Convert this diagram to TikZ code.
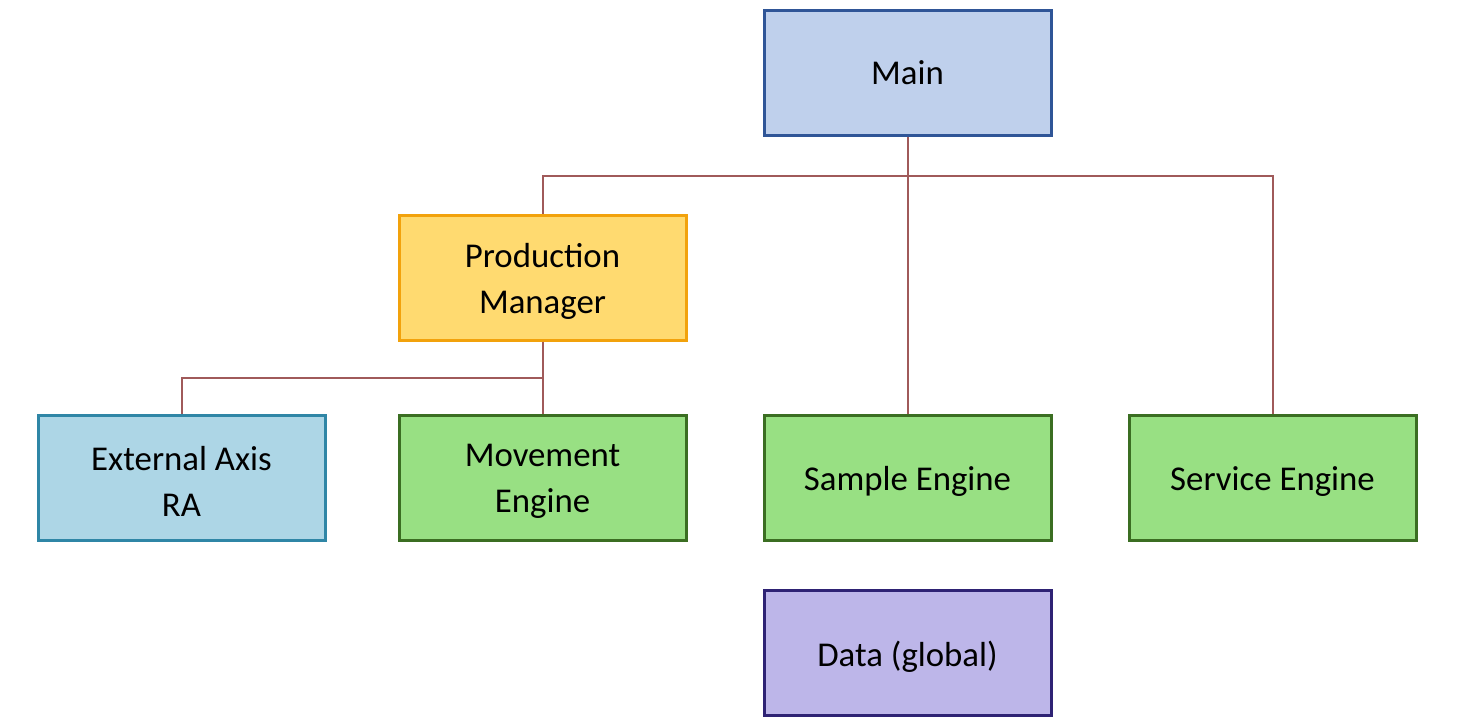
\documentclass[tikz,border=0pt]{standalone}
\usepackage{fontspec}
\setmainfont{Carlito}
\begin{document}
\begin{tikzpicture}[x=0.5pt,y=-0.5pt,
  box/.style={draw, line width=1.5pt, minimum width=143.5pt, minimum height=62.5pt,
    inner sep=0pt},
  lab/.style={align=center, font=\fontsize{17.4}{23}\selectfont, text=black, yshift=-2pt, inner sep=0pt},
  link/.style={draw=linkc, line width=1pt}]
\definecolor{linkc}{HTML}{A05A5A}
\definecolor{mainf}{HTML}{BFD0EC}\definecolor{maind}{HTML}{2F5597}
\definecolor{pmf}{HTML}{FFDA70}\definecolor{pmd}{HTML}{F2A20C}
\definecolor{extf}{HTML}{ADD6E6}\definecolor{extd}{HTML}{2F86A6}
\definecolor{grf}{HTML}{98E083}\definecolor{grd}{HTML}{3B6E22}
\definecolor{datf}{HTML}{BDB6E9}\definecolor{datd}{HTML}{2E2274}
\useasboundingbox (0,0) rectangle (1460,724);
\node[box, fill=mainf, draw=maind, label={[lab, yshift=2pt]center:Main}] (main) at (907.5,73) {};
\node[box, fill=pmf, draw=pmd, label={[lab]center:{Production\\Manager}}] (pm) at (542.5,277.5) {};
\node[box, fill=extf, draw=extd, label={[lab]center:{External Axis\\RA}}] (ext) at (181.5,477.5) {};
\node[box, fill=grf, draw=grd, label={[lab]center:{Movement\\Engine}}] (move) at (542.5,477.5) {};
\node[box, fill=grf, draw=grd, label={[lab]center:Sample Engine}] (sample) at (907.5,477.5) {};
\node[box, fill=grf, draw=grd, label={[lab]center:Service Engine}] (service) at (1272.5,477.5) {};
\node[box, fill=datf, draw=datd, label={[lab]center:Data (global)}] (data) at (907.5,653) {};
\coordinate (bus1) at (907.5,175.5);
\coordinate (bus2) at (542.5,378);
\draw[link] (main.south) -- (sample.north);
\draw[link] (pm.north) |- (bus1) -| (service.north);
\draw[link] (pm.south) -- (move.north);
\draw[link] (ext.north) |- (bus2);
\end{tikzpicture}
\end{document}
